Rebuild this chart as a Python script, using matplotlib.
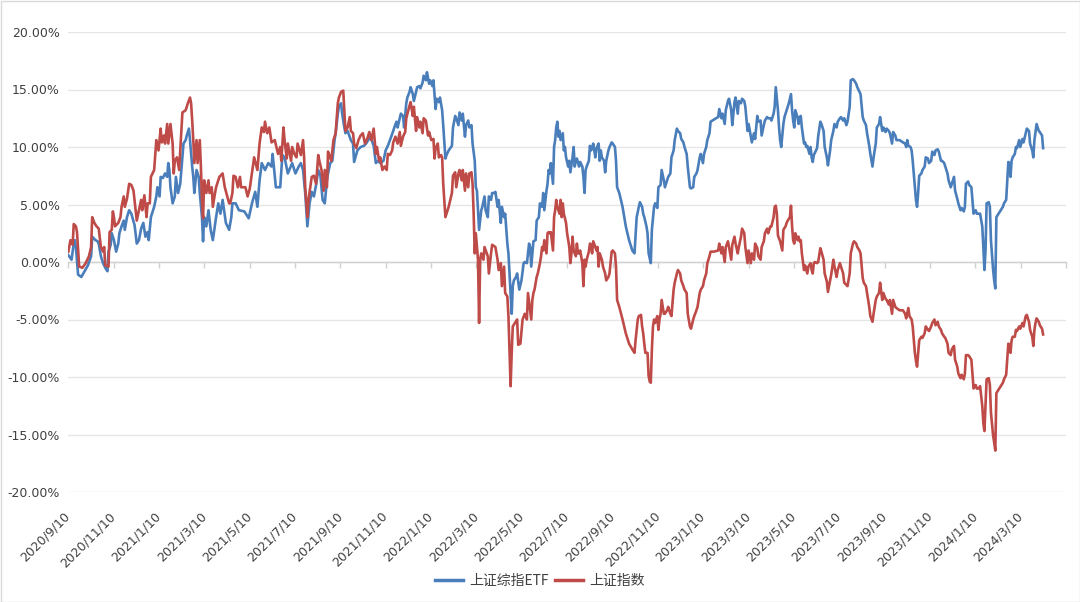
import matplotlib
matplotlib.use("Agg")
import matplotlib.pyplot as plt
from matplotlib.patches import Rectangle
from matplotlib.lines import Line2D
from matplotlib.font_manager import FontProperties

# ---------------- data (trading-day index, cumulative return %) ----------------
date_labels = ["2020/9/10", "2020/11/10", "2021/1/10", "2021/3/10", "2021/5/10",
               "2021/7/10", "2021/9/10", "2021/11/10", "2022/1/10", "2022/3/10",
               "2022/5/10", "2022/7/10", "2022/9/10", "2022/11/10", "2023/1/10",
               "2023/3/10", "2023/5/10", "2023/7/10", "2023/9/10", "2023/11/10",
               "2024/1/10", "2024/3/10"]
days_per_label = 41.73
last_day = 898.2

series_names = ["上证综指ETF", "上证指数"]

etf_points = [
    (0, 0.6), (3, 0.2), (5, 1.6), (6, 1.9), (7, 1.3), (9, -1.1), (12, -1.3), (15, -0.8), (18, -0.3),
    (21, 0.5), (22, 2.2), (25, 1.9), (27, 1.8), (28, 1.6), (30, 0.5), (32, -0.1), (34, -0.5), (36, -0.8),
    (37, 0.9), (39, 1.5), (40, 2.5), (42, 1.9), (44, 0.9), (46, 1.6), (47, 2.5), (49, 3.1), (51, 3.6),
    (52, 2.8), (54, 3.9), (56, 4.5), (58, 4.2), (61, 3.2), (63, 1.6), (65, 1.9), (67, 2.9), (69, 3.4),
    (71, 2.2), (73, 2.6), (74, 1.9), (76, 3.9), (79, 4.8), (81, 5.7), (82, 6.5), (84, 5.7), (85, 7.4),
    (87, 7.3), (89, 7.7), (91, 7.4), (92, 8.6), (93, 8.0), (94, 6.5), (96, 5.1), (98, 5.7), (99, 7.4),
    (101, 6.0), (103, 6.8), (106, 10.3), (108, 10.6), (109, 11.0), (111, 11.6), (112, 10.6), (114, 8.3),
    (115, 7.4), (116, 6.0), (118, 8.0), (120, 7.4), (121, 6.0), (123, 3.9), (124, 1.8), (125, 3.9),
    (127, 3.1), (129, 4.5), (131, 2.8), (133, 1.9), (136, 3.9), (138, 5.1), (140, 4.2), (142, 5.4),
    (145, 3.4), (148, 2.8), (150, 3.9), (151, 5.1), (154, 5.1), (157, 4.5), (162, 4.4), (166, 3.8),
    (169, 5.1), (172, 6.1), (174, 4.8), (176, 7.1), (178, 8.6), (181, 8.0), (184, 8.6), (187, 8.3),
    (188, 9.4), (191, 6.5), (195, 6.5), (197, 9.3), (199, 9.1), (202, 7.7), (206, 8.6), (209, 7.7),
    (212, 8.3), (214, 8.6), (216, 8.0), (218, 6.0), (220, 3.1), (222, 5.1), (224, 6.1), (226, 5.7),
    (228, 6.7), (230, 8.0), (232, 7.5), (234, 5.4), (236, 5.1), (238, 7.1), (239, 7.7), (241, 8.6),
    (243, 8.8), (245, 10.6), (246, 11.2), (248, 12.9), (249, 13.5), (251, 13.8), (252, 12.9), (254, 11.7),
    (255, 11.2), (257, 11.4), (260, 10.6), (262, 10.3), (263, 8.7), (266, 9.7), (269, 10.0), (272, 10.1),
    (274, 10.3), (276, 10.6), (278, 10.9), (281, 10.1), (283, 8.6), (285, 8.8), (287, 8.6), (290, 8.8),
    (292, 9.7), (294, 10.1), (296, 10.6), (299, 11.4), (300, 11.7), (302, 12.2), (303, 11.7), (305, 12.5),
    (306, 12.9), (308, 12.7), (309, 11.7), (311, 13.8), (312, 14.3), (314, 14.8), (315, 15.2), (317, 14.6),
    (318, 14.0), (320, 14.8), (321, 15.2), (323, 15.3), (324, 15.1), (326, 15.6), (327, 16.2), (329, 15.8),
    (330, 16.5), (332, 15.5), (333, 15.8), (335, 15.3), (336, 15.8), (338, 13.3), (339, 14.2), (341, 13.9),
    (342, 14.3), (344, 13.2), (345, 11.9), (347, 9.0), (348, 9.3), (350, 9.7), (353, 10.1), (354, 11.7),
    (356, 12.7), (357, 12.5), (359, 11.9), (360, 13.0), (362, 12.3), (363, 12.9), (365, 10.9), (366, 11.9),
    (368, 12.3), (369, 11.7), (371, 11.9), (372, 10.3), (374, 8.8), (375, 6.5), (376, 6.2), (377, 4.5),
    (378, 2.8), (380, 4.5), (381, 4.8), (383, 5.7), (384, 4.5), (386, 3.9), (387, 5.7), (389, 5.4),
    (390, 6.0), (392, 6.0), (393, 6.1), (395, 4.8), (396, 5.4), (398, 3.4), (399, 4.8), (401, 3.9),
    (402, 4.2), (404, 1.6), (405, 0.75), (407, -2.7), (408, -4.5), (409, -2.1), (410, -1.6), (412, -1.3),
    (413, -1.0), (415, -2.4), (417, -1.6), (419, -0.1), (420, 0.0), (422, -0.1), (424, 1.6), (425, 1.3),
    (426, -0.4), (428, 1.8), (430, 1.9), (431, 3.6), (433, 3.9), (434, 5.1), (436, 4.8), (437, 6.0),
    (438, 4.5), (440, 6.2), (441, 6.8), (442, 8.0), (443, 7.7), (444, 8.6), (446, 6.8), (447, 10.0),
    (448, 10.6), (449, 11.7), (450, 12.2), (451, 10.9), (452, 11.4), (453, 10.6), (455, 11.2), (456, 9.7),
    (457, 10.0), (458, 9.1), (460, 8.3), (461, 8.8), (462, 7.8), (464, 9.1), (465, 10.0), (466, 8.3),
    (467, 8.8), (468, 9.0), (470, 8.3), (471, 8.7), (473, 8.3), (474, 7.4), (475, 6.0), (476, 8.0),
    (477, 8.3), (479, 8.8), (480, 10.1), (481, 9.7), (482, 9.9), (483, 10.3), (485, 9.1), (486, 9.9),
    (488, 10.3), (489, 8.8), (490, 9.7), (491, 9.1), (493, 8.8), (494, 7.8), (495, 8.8), (497, 9.7),
    (498, 10.0), (500, 10.4), (501, 10.3), (503, 10.0), (504, 8.8), (505, 6.5), (507, 6.0), (510, 4.8),
    (513, 3.1), (516, 1.9), (519, 1.0), (521, 0.75), (523, 3.9), (525, 4.8), (526, 5.2), (528, 4.8),
    (529, 4.2), (530, 3.9), (532, 3.1), (533, 2.5), (534, 0.75), (536, -0.1), (537, 2.8), (539, 4.8),
    (540, 5.1), (542, 4.7), (543, 6.5), (545, 6.7), (546, 8.0), (548, 7.1), (549, 6.5), (551, 7.1),
    (552, 7.4), (554, 7.7), (555, 9.1), (557, 9.7), (558, 10.6), (560, 11.6), (561, 11.4), (563, 11.2),
    (564, 10.7), (566, 10.4), (567, 10.0), (569, 9.4), (570, 8.3), (572, 6.5), (573, 6.4), (575, 6.5),
    (576, 7.4), (578, 7.7), (579, 8.0), (581, 9.1), (582, 9.4), (584, 8.6), (585, 9.4), (587, 10.0),
    (588, 10.6), (590, 11.2), (591, 12.2), (596, 12.5), (598, 12.6), (599, 13.3), (601, 12.5), (602, 12.9),
    (604, 12.0), (605, 13.2), (607, 14.0), (608, 14.2), (610, 13.2), (611, 11.9), (613, 13.9), (614, 14.3),
    (616, 12.9), (617, 14.0), (619, 13.8), (620, 14.2), (622, 14.0), (623, 13.5), (625, 11.4), (626, 12.0),
    (628, 10.9), (629, 10.4), (631, 11.2), (632, 10.7), (634, 12.7), (635, 12.2), (637, 12.3), (638, 11.0),
    (640, 11.9), (641, 12.3), (643, 12.6), (644, 12.5), (646, 12.5), (647, 12.3), (649, 12.9), (650, 13.5),
    (651, 15.2), (653, 13.2), (654, 11.7), (655, 10.6), (656, 10.0), (658, 12.0), (659, 12.6), (660, 12.9),
    (662, 13.5), (663, 13.8), (665, 14.6), (666, 13.2), (667, 12.3), (668, 11.7), (669, 13.2), (671, 12.6),
    (672, 12.0), (673, 12.6), (674, 12.7), (675, 11.7), (677, 10.3), (678, 10.4), (679, 10.0), (680, 10.1),
    (682, 9.4), (683, 10.0), (684, 9.1), (685, 8.7), (686, 9.3), (688, 9.7), (689, 9.9), (690, 10.9),
    (692, 12.2), (693, 12.0), (695, 11.4), (696, 10.0), (698, 9.1), (699, 8.4), (701, 9.7), (702, 10.6),
    (704, 11.4), (705, 12.0), (707, 11.7), (708, 12.2), (710, 12.5), (711, 12.6), (713, 12.3), (714, 12.5),
    (716, 11.9), (717, 12.2), (719, 13.5), (720, 15.8), (722, 15.9), (723, 15.8), (725, 15.5), (726, 15.2),
    (728, 14.8), (729, 14.6), (731, 12.6), (732, 12.3), (734, 11.9), (735, 11.2), (737, 10.1), (738, 9.4),
    (740, 8.3), (741, 9.1), (743, 10.3), (744, 11.7), (746, 12.0), (747, 12.6), (749, 11.4), (750, 11.7),
    (752, 11.3), (753, 11.6), (755, 11.4), (756, 11.2), (758, 10.3), (759, 11.3), (761, 11.0), (762, 10.6),
    (765, 10.6), (768, 10.4), (770, 10.3), (771, 10.0), (772, 10.6), (773, 10.1), (775, 10.0), (776, 9.7),
    (777, 8.8), (779, 6.5), (780, 5.4), (781, 4.8), (782, 6.0), (783, 7.5), (785, 7.7), (786, 8.0),
    (788, 8.3), (789, 9.1), (791, 9.0), (792, 8.6), (794, 8.8), (795, 9.6), (797, 9.3), (798, 9.7),
    (800, 9.8), (801, 9.6), (803, 8.8), (804, 8.8), (806, 8.6), (807, 8.3), (809, 7.7), (810, 7.1),
    (812, 6.5), (813, 6.8), (815, 7.4), (816, 6.2), (818, 5.5), (819, 5.1), (821, 4.5), (822, 4.7),
    (824, 4.4), (825, 4.8), (826, 6.8), (828, 7.0), (829, 6.7), (831, 6.5), (832, 5.4), (833, 4.2),
    (835, 4.5), (836, 4.2), (838, 4.2), (839, 4.2), (841, 3.1), (842, 1.3), (843, -0.7), (844, 1.0),
    (845, 5.1), (847, 5.2), (848, 4.8), (849, 1.9), (851, -0.7), (852, -1.6), (853, -2.3), (854, 3.9),
    (856, 4.2), (858, 4.5), (860, 4.8), (861, 5.1), (863, 5.4), (864, 7.1), (865, 8.7), (866, 8.6),
    (867, 7.4), (868, 8.8), (869, 9.1), (871, 9.4), (872, 10.0), (873, 9.9), (875, 10.6), (876, 10.0),
    (878, 10.7), (879, 10.4), (881, 11.2), (882, 11.6), (884, 11.4), (885, 10.3), (887, 9.7), (888, 9.1),
    (889, 10.6), (890, 11.3), (891, 12.0), (893, 11.4), (894, 11.3), (896, 11.0), (897, 9.9),
]

index_points = [
    (0, 0.9), (2, 1.9), (4, 1.5), (5, 3.3), (7, 3.1), (8, 2.6), (10, -0.4), (13, -0.5), (16, -0.1),
    (19, 0.5), (21, 1.3), (22, 3.9), (24, 3.4), (26, 3.1), (28, 2.9), (30, 1.3), (32, 0.9), (33, 1.3),
    (34, -0.3), (37, -0.4), (38, 2.6), (40, 2.8), (41, 4.4), (42, 3.9), (43, 3.1), (46, 3.4), (48, 3.9),
    (49, 4.8), (51, 5.7), (52, 4.8), (54, 5.5), (56, 6.8), (58, 6.7), (60, 6.2), (62, 4.5), (63, 3.6),
    (65, 4.5), (67, 5.4), (68, 4.5), (70, 5.8), (72, 3.9), (73, 5.1), (75, 5.1), (76, 7.4), (79, 8.0),
    (81, 10.6), (83, 9.7), (85, 11.6), (86, 10.4), (88, 11.0), (89, 10.3), (91, 12.0), (92, 10.3),
    (94, 12.0), (96, 10.3), (97, 7.7), (98, 8.8), (100, 9.1), (102, 8.0), (103, 9.7), (105, 13.0),
    (108, 13.2), (110, 13.8), (112, 14.3), (113, 13.8), (114, 12.3), (115, 10.6), (116, 8.6), (118, 10.6),
    (119, 8.6), (121, 10.6), (122, 8.3), (123, 5.4), (124, 3.8), (125, 7.1), (127, 6.0), (129, 7.1),
    (130, 6.0), (132, 6.5), (133, 4.8), (135, 6.0), (136, 6.5), (139, 7.4), (142, 7.7), (144, 6.5),
    (148, 5.1), (149, 5.1), (151, 6.0), (152, 7.5), (154, 7.4), (156, 6.5), (158, 7.4), (159, 6.5),
    (163, 6.5), (165, 5.7), (167, 6.4), (171, 9.1), (174, 8.0), (176, 10.3), (178, 11.7), (180, 11.3),
    (181, 12.2), (183, 11.2), (185, 11.7), (187, 10.4), (190, 10.6), (193, 9.4), (195, 10.0), (196, 8.8),
    (198, 11.7), (199, 10.6), (201, 9.0), (202, 10.3), (205, 8.8), (206, 10.0), (208, 9.4), (210, 9.1),
    (211, 10.3), (214, 9.3), (216, 10.6), (217, 9.1), (218, 6.5), (220, 3.9), (221, 5.4), (224, 7.4),
    (226, 7.5), (228, 6.8), (230, 9.3), (231, 8.8), (233, 8.0), (234, 7.1), (235, 6.2), (236, 8.0),
    (238, 6.5), (239, 9.6), (241, 9.1), (242, 8.8), (244, 10.6), (246, 11.2), (248, 13.8), (249, 14.3),
    (251, 14.8), (253, 14.9), (254, 13.2), (255, 11.4), (257, 11.7), (259, 12.6), (260, 11.4), (262, 11.2),
    (263, 10.3), (265, 9.9), (267, 10.6), (269, 11.0), (271, 11.2), (273, 10.3), (275, 10.7), (277, 11.3),
    (279, 10.6), (281, 11.6), (283, 9.4), (284, 10.0), (286, 8.8), (287, 9.1), (289, 8.0), (291, 8.3),
    (293, 8.0), (294, 9.4), (296, 9.3), (298, 9.7), (299, 10.4), (301, 10.9), (303, 10.3), (305, 11.3),
    (306, 10.1), (308, 10.9), (310, 11.3), (311, 12.5), (314, 13.6), (315, 13.9), (317, 12.7), (318, 13.5),
    (320, 11.4), (321, 12.6), (323, 11.7), (324, 12.2), (326, 11.2), (327, 12.5), (329, 12.3), (331, 11.0),
    (332, 11.3), (334, 10.6), (336, 10.7), (337, 9.0), (338, 9.9), (340, 10.3), (341, 9.1), (343, 9.3),
    (344, 9.1), (345, 6.8), (347, 3.9), (350, 4.8), (353, 6.0), (354, 7.5), (356, 7.8), (357, 6.5),
    (359, 7.7), (360, 8.0), (362, 7.1), (363, 8.0), (365, 6.2), (366, 7.7), (368, 6.5), (369, 7.7),
    (371, 7.8), (372, 6.8), (373, 4.2), (374, 0.75), (375, 2.5), (377, 0.2), (378, -5.3), (379, 0.2),
    (380, 0.75), (382, 0.2), (383, 1.3), (386, 0.5), (387, -1.0), (389, 0.75), (390, 1.5), (393, 1.3),
    (395, 0.2), (396, -0.7), (398, -0.1), (399, -2.1), (401, -0.4), (402, -2.7), (404, -3.0), (405, -4.7),
    (407, -10.8), (408, -7.9), (409, -5.6), (411, -5.3), (413, -5.0), (414, -7.2), (416, -7.1), (418, -5.0),
    (420, -4.5), (422, -5.0), (423, -2.7), (426, -5.0), (427, -3.3), (428, -2.7), (429, -2.4), (431, -1.3),
    (432, -1.0), (434, -0.1), (435, 0.5), (436, 1.3), (437, 1.0), (438, 1.9), (440, 0.75), (441, 2.5),
    (442, 2.6), (443, 2.5), (444, 2.6), (446, 1.0), (447, 3.9), (448, 4.5), (449, 5.4), (450, 4.8),
    (452, 4.2), (453, 5.4), (454, 3.9), (455, 5.1), (456, 4.2), (458, 3.4), (459, 2.5), (461, 1.3),
    (462, -0.1), (463, 0.75), (464, 2.2), (465, 1.0), (467, 0.5), (468, 1.6), (469, 0.75), (470, 0.75),
    (471, 1.0), (473, -0.1), (474, -2.1), (475, 0.2), (476, -0.4), (477, 0.2), (479, 0.9), (480, 1.6),
    (481, 1.5), (482, 0.75), (483, 1.8), (485, 1.3), (486, 1.0), (487, 1.3), (488, -0.4), (489, 0.75),
    (491, 0.2), (492, -0.4), (494, -1.0), (495, -1.6), (497, -1.3), (498, -1.0), (500, 0.9), (501, 1.0),
    (503, 0.75), (504, -0.4), (505, -3.3), (507, -3.9), (510, -5.0), (513, -6.2), (516, -7.1), (519, -7.6),
    (521, -7.9), (522, -6.8), (524, -5.0), (525, -4.7), (527, -4.6), (528, -5.6), (529, -6.2), (530, -7.1),
    (531, -7.9), (533, -7.9), (534, -9.9), (535, -10.4), (536, -10.5), (537, -7.6), (538, -5.6), (539, -5.0),
    (540, -5.3), (542, -4.7), (543, -5.9), (544, -5.0), (545, -4.5), (546, -3.3), (548, -4.5), (549, -4.5),
    (551, -4.2), (552, -3.9), (554, -4.5), (555, -4.7), (557, -2.4), (558, -1.8), (560, -1.0), (561, -0.7),
    (563, -1.0), (564, -1.6), (566, -2.1), (567, -2.4), (569, -2.7), (570, -4.5), (572, -5.6), (573, -5.8),
    (575, -5.0), (576, -4.7), (578, -4.2), (579, -3.9), (581, -2.7), (582, -2.4), (584, -2.1), (585, -1.6),
    (587, -1.0), (588, -0.1), (590, 0.5), (591, 0.9), (594, 0.9), (598, 1.0), (599, 1.6), (601, 0.75),
    (602, 1.3), (604, 0.0), (605, 1.3), (607, 1.8), (608, 1.3), (610, 0.2), (611, 1.5), (613, 2.2),
    (614, 1.6), (616, 0.75), (617, 1.3), (619, 2.2), (620, 2.9), (622, 2.5), (623, 1.3), (625, -0.1),
    (626, 1.0), (628, -0.1), (629, 0.75), (631, 0.2), (632, 1.6), (634, 1.2), (635, 0.5), (637, 0.2),
    (638, 1.3), (640, 1.8), (641, 2.5), (643, 2.9), (644, 2.5), (646, 3.1), (647, 3.1), (649, 3.9),
    (650, 4.8), (651, 4.9), (652, 4.2), (653, 2.3), (655, 1.8), (657, 1.0), (658, 2.8), (660, 3.1),
    (661, 3.4), (662, 3.6), (664, 3.9), (665, 4.9), (666, 3.1), (667, 1.9), (668, 1.6), (669, 2.5),
    (671, 1.9), (672, 2.2), (673, 1.8), (674, 1.9), (675, 0.75), (677, -0.7), (678, -0.3), (680, -1.0),
    (681, -0.4), (683, -0.1), (684, -0.7), (685, -1.0), (686, -0.1), (687, 0.0), (689, -0.1), (690, 0.0),
    (692, 1.2), (693, 0.9), (695, 0.2), (696, -1.0), (698, -1.7), (699, -2.6), (701, -1.6), (702, -1.1),
    (704, 0.2), (705, -0.4), (707, -1.3), (708, -0.7), (710, -0.1), (711, -0.4), (713, -1.0), (714, -1.8),
    (716, -2.0), (717, -2.1), (719, -1.0), (720, 0.75), (722, 1.6), (723, 1.8), (725, 1.6), (726, 1.3),
    (728, 1.0), (729, 0.75), (731, -1.4), (732, -1.8), (734, -2.1), (735, -2.7), (737, -3.9), (738, -4.7),
    (740, -5.2), (741, -4.5), (743, -3.3), (744, -3.0), (746, -2.7), (747, -1.8), (749, -3.3), (750, -2.7),
    (752, -3.2), (753, -3.3), (755, -3.7), (756, -3.3), (758, -4.5), (759, -3.3), (761, -3.9), (762, -4.0),
    (765, -4.2), (768, -4.2), (770, -4.5), (771, -4.9), (773, -4.0), (774, -4.7), (776, -5.0), (777, -5.6),
    (779, -7.9), (780, -8.6), (781, -9.1), (782, -7.9), (783, -6.8), (785, -6.5), (786, -6.6), (788, -6.2),
    (789, -5.6), (791, -5.9), (792, -6.0), (794, -5.6), (795, -5.3), (797, -5.0), (798, -5.5), (800, -5.2),
    (801, -5.6), (803, -5.9), (804, -6.2), (806, -6.5), (807, -6.6), (809, -7.1), (810, -7.9), (812, -8.1),
    (813, -7.6), (815, -7.3), (816, -8.5), (818, -9.1), (819, -9.7), (821, -10.1), (822, -9.8), (824, -10.2),
    (825, -9.7), (826, -8.1), (828, -8.1), (829, -8.2), (831, -8.5), (832, -9.7), (833, -11.0), (835, -10.7),
    (836, -11.0), (838, -11.0), (839, -10.8), (841, -12.5), (842, -14.0), (843, -14.7), (844, -12.5),
    (845, -10.2), (847, -10.1), (848, -10.7), (849, -13.1), (851, -15.1), (852, -15.7), (853, -16.4),
    (854, -11.4), (856, -11.1), (858, -10.8), (860, -10.5), (861, -10.2), (863, -9.8), (864, -8.5),
    (865, -7.1), (866, -7.2), (867, -7.9), (868, -6.8), (869, -6.5), (871, -6.5), (872, -5.9), (873, -6.0),
    (875, -5.6), (876, -5.8), (878, -5.3), (879, -5.6), (881, -4.7), (882, -4.6), (884, -5.2), (885, -5.9),
    (887, -6.5), (888, -7.3), (889, -5.9), (890, -5.3), (891, -4.9), (893, -5.2), (894, -5.5), (896, -5.8),
    (897, -6.3),
]

y_ticks = [-20, -15, -10, -5, 0, 5, 10, 15, 20]

# ---------------- styling ----------------
BLUE = "#4A7EBB"
RED = "#BE4B48"
TXT = "#404040"

plt.rcParams["font.family"] = ["DejaVu Sans", "Noto Sans CJK SC"]
plt.rcParams["axes.unicode_minus"] = False

W, H = 1080, 602
fig = plt.figure(figsize=(W / 100, H / 100), dpi=100)
ax = fig.add_axes([68.3 / W, 110 / H, (1066 - 68.3) / W, 460 / H])

ex, ey = zip(*etf_points)
ix, iy = zip(*index_points)
ax.plot(ex, ey, color=BLUE, lw=1.9, zorder=3, solid_joinstyle="round")
ax.plot(ix, iy, color=RED, lw=1.9, zorder=4, solid_joinstyle="round")

ax.set_xlim(0, last_day)
ax.set_ylim(-20, 20)
ax.set_yticks(y_ticks)
ax.set_yticklabels([f"{v:.2f}%" for v in y_ticks])
ax.grid(axis="y", color="#E6E6E6", lw=1.0)
ax.set_axisbelow(True)
for s in ["top", "right", "left"]:
    ax.spines[s].set_visible(False)
ax.spines["bottom"].set_position(("data", 0))
ax.spines["bottom"].set_color("#D0D0D0")
ax.spines["bottom"].set_linewidth(1.0)
ax.spines["bottom"].set_zorder(2)

tick_pos = [k * days_per_label for k in range(len(date_labels) + 1)]
ax.set_xticks(tick_pos)
ax.tick_params(axis="x", direction="out", length=4, width=1, color="#D0D0D0", labelbottom=False)
ax.tick_params(axis="y", length=0, pad=6, labelsize=9, labelcolor=TXT)

sec = ax.secondary_xaxis("bottom")
sec.set_xticks(tick_pos[:len(date_labels)], labels=date_labels)
sec.spines["bottom"].set_visible(False)
sec.tick_params(length=0, pad=16, labelsize=9, labelcolor=TXT)
for lab in sec.get_xticklabels():
    lab.set_rotation(45)
    lab.set_ha("right")
    lab.set_va("center")
    lab.set_rotation_mode("anchor")

handles = [Line2D([], [], color=BLUE, lw=2.5), Line2D([], [], color=RED, lw=2.5)]
fig.legend(handles, series_names, loc="center", bbox_to_anchor=(0.5, 1 - 581 / H),
           ncol=2, frameon=False, handlelength=2.0, handletextpad=0.5, columnspacing=0.4,
           prop=FontProperties(family=["Noto Sans CJK SC", "DejaVu Sans"], size=10),
           labelcolor=TXT)

fig.patches.append(Rectangle((0.5 / W, 0.5 / H), 1 - 1 / W, 1 - 1 / H, transform=fig.transFigure,
                             fill=False, edgecolor="#D9D9D9", lw=1.0))

fig.savefig("out.png", dpi=100)
